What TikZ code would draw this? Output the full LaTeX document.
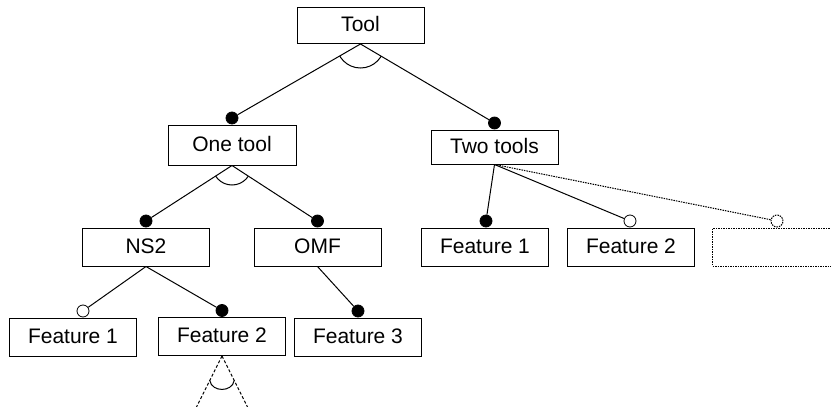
\documentclass[tikz,border=0pt]{standalone}
\usepackage{fontspec}
\setmainfont{Liberation Sans}
\usetikzlibrary{calc}
\begin{document}
\begin{tikzpicture}[x=1pt,y=-1pt,
  feat/.style={draw, line width=1pt, inner sep=0pt, minimum width=127pt,
    minimum height=38pt, font=\fontsize{21}{25}\selectfont,
    text height=15pt, text depth=3pt},
  link/.style={line width=1pt},
  dotline/.style={line width=1pt, dash pattern=on 1.5pt off 1pt},
  dashline/.style={line width=1pt, dash pattern=on 3pt off 2pt},
  mand/.style={circle, fill=black, draw=black, line width=0.8pt,
    minimum size=12pt, inner sep=0pt},
  opt/.style={circle, fill=white, draw=black, line width=0.8pt,
    minimum size=12pt, inner sep=0pt}]
\useasboundingbox (0,0) rectangle (831,407);

% feature boxes
\node[feat, minimum height=36pt] (tool) at (360.5,25.5) {Tool};
\node[feat, minimum width=128pt, minimum height=40pt] (one) at (232,145) {One tool};
\node[feat, minimum height=34pt] (two) at (494.5,147) {Two tools};
\node[feat] (ns2) at (146,247) {NS2};
\node[feat] (omf) at (317.5,247) {OMF};
\node[feat] (f1r) at (485,247) {Feature 1};
\node[feat] (f2r) at (631,247) {Feature 2};
\node[feat, dotline] (more) at (776,247) {};
\node[feat] (f1) at (73,337) {Feature 1};
\node[feat] (f2) at (222,336.5) {Feature 2};
\node[feat] (f3) at (358,337) {Feature 3};

% mandatory / optional markers
\node[mand] (d-one) at ($(one.north)+(0,-6.5)$) {};
\node[mand] (d-two) at ($(two.north)+(0,-6.5)$) {};
\node[mand] (d-ns2) at ($(ns2.north)+(0,-6.5)$) {};
\node[mand] (d-omf) at ($(omf.north)+(0,-6.5)$) {};
\node[mand] (d-f1r) at ($(f1r.north)+(1,-6.5)$) {};
\node[opt] (o-f2r) at ($(f2r.north)+(-1,-6.5)$) {};
\node[opt, dotline] (o-more) at ($(more.north)+(1,-6.5)$) {};
\node[opt] (o-f1) at ($(f1.north)+(10,-6.5)$) {};
\node[mand] (d-f2) at ($(f2.north)+(0,-6.5)$) {};
\node[mand] (d-f3) at ($(f3.north)+(0,-6.5)$) {};

% connectors
\draw[link] (tool.south) -- (d-one);
\draw[link] (tool.south) -- (d-two);
\draw[link] (one.south) -- (d-ns2);
\draw[link] (one.south) -- (d-omf);
\draw[link] (two.south) -- (d-f1r);
\draw[link] (two.south) -- (o-f2r);
\draw[dotline] (two.south) -- (o-more);
\draw[link] (ns2.south) -- (o-f1);
\draw[link] (ns2.south) -- (d-f2);
\draw[link] (omf.south) -- (d-f3);

% group arcs
\begin{scope}
  \clip (tool.south) -- ($(tool.south)!4!(d-one)$) -- ($(tool.south)!4!(d-two)$) -- cycle;
  \draw[link] (tool.south) circle (24pt);
\end{scope}
\begin{scope}
  \clip (one.south) -- ($(one.south)!4!(d-ns2)$) -- ($(one.south)!4!(d-omf)$) -- cycle;
  \draw[link] (one.south) circle (19.5pt);
\end{scope}

% open-ended group under Feature 2
\coordinate (f2l) at (196,408);
\coordinate (f2rr) at (248,408);
\draw[dashline] (f2.south) -- (f2l);
\draw[dashline] (f2.south) -- (f2rr);
\coordinate (a1) at ($(f2.south)!0.47!(f2l)$);
\coordinate (a2) at ($(f2.south)!0.47!(f2rr)$);
\draw[link] (a1) .. controls ($(a1)+(2,12)$) and ($(a2)+(-2,12)$) .. (a2);
\end{tikzpicture}
\end{document}
